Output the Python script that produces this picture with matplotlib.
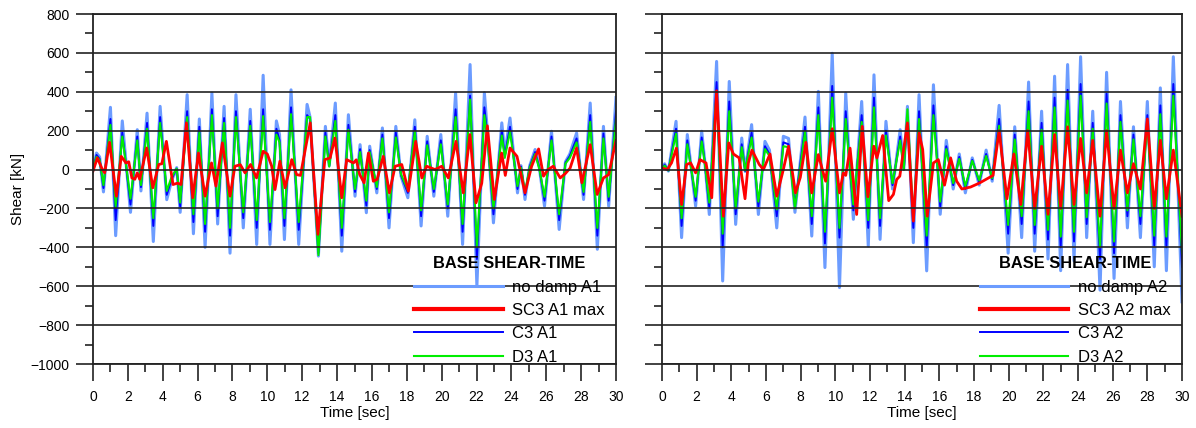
import matplotlib
matplotlib.use("Agg")
import matplotlib.pyplot as plt
import numpy as np
from matplotlib.ticker import MultipleLocator

plt.rcParams['font.family'] = ['Liberation Sans', 'DejaVu Sans']

# ---------- A1 (left panel) ----------
a1_t = [0.00, 0.20, 0.38, 0.60, 1.00, 1.30, 1.68, 2.15, 2.54, 2.75,
        3.10, 3.46, 3.85, 4.23, 4.50, 4.80, 5.00, 5.40, 5.76, 6.10,
        6.43, 6.82, 7.15, 7.52, 7.86, 8.20, 8.62, 9.02, 9.39, 9.76,
        10.15, 10.52, 10.70, 10.98, 11.36, 11.80, 12.28, 12.45, 12.93, 13.33,
        13.55, 13.90, 14.27, 14.65, 15.03, 15.32, 15.68, 15.87, 16.28, 16.60,
        16.98, 17.37, 17.67, 18.06, 18.46, 18.82, 19.17, 19.55, 19.95, 20.35,
        20.80, 21.20, 21.63, 22.02, 22.45, 22.62, 22.97, 23.45, 23.62, 23.92,
        24.35, 24.55, 24.78, 25.05, 25.36, 25.60, 25.90, 26.30, 26.74, 27.10,
        27.35, 27.74, 28.14, 28.52, 28.93, 29.28, 29.58, 30.00]
a1_nodamp = [0, 85, 65, -115, 320, -340, 250, -220, 205, -110,
             290, -370, 325, -155, -60, 10, -220, 385, -330, 260,
             -400, 393, -280, 325, -430, 385, -300, 310, -385, 485,
             -385, 250, 180, -360, 410, -385, 335, 270, -445, 222,
             20, 342, -420, 282, -137, 128, -222, 120, -120, 214,
             -300, 222, -34, -145, 256, -290, 171, -137, 180, -240,
             393, -385, 540, -600, 395, 200, -274, 240, 80, 265,
             -120, 20, -154, 20, 103, 10, -188, 197, -308, 40,
             80, 188, -154, 342, -410, 222, -188, 370]
a1_c3 = [0, 75, 55, -95, 260, -260, 190, -180, 170, -90,
         240, -290, 270, -130, -50, 5, -190, 300, -270, 220,
         -320, 310, -240, 265, -340, 300, -250, 250, -300, 310,
         -310, 210, 150, -290, 320, -310, 280, 260, -430, 190,
         20, 280, -340, 230, -115, 105, -185, 100, -100, 180,
         -250, 190, -30, -120, 220, -240, 145, -115, 150, -200,
         310, -320, 380, -460, 320, 180, -230, 200, 70, 220,
         -100, 15, -130, 15, 90, 10, -160, 170, -260, 35,
         70, 160, -130, 280, -340, 185, -160, 300]
a1_d3 = [0, 65, 50, -80, 230, -190, 170, -150, 150, -80,
         210, -250, 240, -110, -40, 5, -170, 270, -230, 190,
         -280, 280, -200, 240, -300, 270, -220, 225, -260, 275,
         -270, 180, 140, -250, 285, -270, 270, 270, -440, 170,
         15, 250, -300, 205, -100, 90, -160, 90, -90, 160,
         -220, 165, -25, -105, 195, -210, 125, -100, 130, -180,
         270, -280, 360, -400, 280, 160, -200, 175, 60, 195,
         -85, 10, -115, 10, 80, 5, -140, 150, -230, 30,
         60, 140, -115, 245, -300, 160, -140, 260]
a1_sc3_t = [0.00, 0.25, 0.50, 0.67, 0.95, 1.34, 1.62, 1.89, 2.05, 2.23,
            2.40, 2.54, 2.68, 3.08, 3.43, 3.77, 3.95, 4.21, 4.59, 4.85,
            5.05, 5.36, 5.72, 6.05, 6.43, 6.80, 7.05, 7.42, 7.86, 8.14,
            8.45, 8.72, 9.04, 9.38, 9.76, 10.00, 10.25, 10.44, 10.72, 11.02,
            11.40, 11.68, 11.90, 12.46, 12.90, 13.30, 13.60, 13.88, 14.27, 14.55,
            14.94, 15.10, 15.30, 15.55, 15.80, 16.08, 16.30, 16.65, 17.00, 17.33,
            17.71, 18.09, 18.51, 18.86, 19.14, 19.62, 20.00, 20.38, 20.82, 21.24,
            21.62, 21.97, 22.30, 22.62, 23.02, 23.44, 23.65, 23.92, 24.32, 24.78,
            25.16, 25.56, 25.84, 26.10, 26.40, 26.80, 27.10, 27.37, 27.74, 28.04,
            28.52, 28.92, 29.28, 29.58, 30.00]
a1_sc3 = [-8, 60, 8, -17, 140, -137, 68, 34, 40, -43,
          -50, -17, -50, 111, -94, 26, 30, 145, -77, -70,
          -77, 240, -145, 85, -137, 34, -85, 137, -137, 17,
          25, -17, 26, -43, 94, 80, 17, -103, 43, -94,
          51, -26, -30, 240, -333, 51, 60, 162, -145, 51,
          34, 50, -26, -68, 85, -60, -50, 68, -120, 17,
          26, -111, 145, -43, 17, 0, 17, -43, 145, -120,
          180, -171, -70, 225, -154, 85, -30, 111, 68, -120,
          17, 106, -34, 0, 17, -43, -20, 8, 111, -68,
          128, -128, -43, -26, 150]

# ---------- A2 (right panel) ----------
a2_t = [0.00, 0.15, 0.37, 0.81, 1.13, 1.46, 1.94, 2.29, 2.45, 2.73,
        3.15, 3.50, 3.88, 4.25, 4.60, 4.80, 5.17, 5.56, 5.94, 6.20,
        6.62, 7.00, 7.30, 7.67, 8.25, 8.64, 9.02, 9.40, 9.82, 10.24,
        10.60, 10.75, 11.04, 11.52, 11.90, 12.23, 12.58, 12.92, 13.30, 13.74,
        13.95, 14.16, 14.50, 14.83, 15.27, 15.66, 16.05, 16.40, 16.80, 17.15,
        17.50, 17.90, 18.30, 18.70, 19.05, 19.45, 19.97, 20.35, 20.75, 21.15,
        21.50, 21.90, 22.27, 22.65, 23.00, 23.40, 23.77, 24.15, 24.50, 24.85,
        25.27, 25.65, 26.08, 26.45, 26.85, 27.20, 27.60, 28.00, 28.40, 28.75,
        29.10, 29.50, 30.00]
a2_nodamp = [0, 30, -8, 248, -350, 180, -188, 197, 60, -231,
             556, -573, 453, -282, 162, -10, 231, -231, 145, 100,
             -300, 171, 160, -220, 270, -342, 402, -504, 598, -607,
             393, 140, -256, 350, -393, 487, -359, 248, -100, 205,
             0, 325, -376, 385, -521, 436, -230, 150, -100, 80,
             -120, 60, -80, 100, -60, 330, -430, 220, -350, 450,
             -420, 300, -460, 480, -520, 540, -470, 580, -350, 300,
             -620, 500, -560, 350, -300, 220, -350, 350, -500, 420,
             -520, 580, -680]
a2_c3 = [0, 25, -5, 210, -290, 150, -160, 165, 50, -195,
         450, -400, 350, -230, 130, -8, 190, -190, 120, 80,
         -240, 140, 130, -190, 220, -280, 320, -380, 430, -350,
         300, 110, -210, 280, -300, 370, -290, 200, -80, 170,
         0, 270, -300, 300, -400, 330, -190, 120, -80, 65,
         -100, 50, -65, 80, -50, 260, -330, 180, -280, 350,
         -330, 240, -360, 370, -400, 410, -370, 440, -280, 240,
         -460, 390, -430, 280, -240, 180, -280, 280, -390, 330,
         -400, 440, -500]
a2_d3 = [0, 20, -5, 185, -250, 130, -140, 145, 45, -170,
         400, -330, 300, -200, 115, -5, 165, -165, 105, 70,
         -205, 120, 115, -200, 195, -240, 280, -320, 370, -300,
         260, 95, -180, 245, -260, 320, -250, 175, -70, 150,
         0, 310, -260, 260, -340, 280, -165, 105, -70, 55,
         -85, 45, -55, 70, -45, 225, -285, 155, -240, 300,
         -285, 205, -310, 320, -345, 355, -320, 380, -245, 210,
         -400, 340, -370, 245, -210, 155, -240, 245, -340, 285,
         -345, 380, -430]
a2_sc3_t = [0.00, 0.30, 0.55, 0.83, 1.13, 1.42, 1.65, 1.94, 2.19, 2.54,
            2.87, 3.15, 3.54, 3.85, 4.12, 4.45, 4.79, 4.98, 5.19, 5.61,
            5.85, 6.23, 6.62, 7.00, 7.30, 7.70, 7.98, 8.30, 8.64, 9.02,
            9.25, 9.44, 9.82, 10.24, 10.46, 10.60, 10.85, 11.23, 11.55, 11.88,
            12.22, 12.40, 12.73, 13.08, 13.35, 13.54, 13.72, 14.16, 14.50, 14.83,
            15.04, 15.30, 15.66, 15.94, 16.30, 16.65, 17.00, 17.30, 17.80, 18.30,
            18.80, 19.10, 19.45, 19.90, 20.30, 20.70, 21.10, 21.50, 21.90, 22.27,
            22.65, 23.00, 23.40, 23.77, 24.15, 24.50, 24.85, 25.27, 25.65, 26.08,
            26.45, 26.85, 27.20, 27.60, 28.00, 28.40, 28.75, 29.10, 29.50, 30.00]
a2_sc3 = [8, 0, 34, 110, -180, 26, 34, -17, 51, 34,
          -145, 405, -240, 137, 80, 60, -150, 34, 100, 26,
          0, 80, -137, 0, 120, -120, -40, 140, -120, 77,
          0, -60, 210, -120, -17, -30, 110, -231, 222, -140,
          120, 60, 175, -160, -128, -51, -34, 240, -265, 188,
          103, -240, 34, 51, -80, 60, -60, -100, -90, -70,
          -45, -30, 200, -150, 80, -180, 200, -200, 120, -230,
          180, -200, 220, -180, 160, -120, 150, -240, 200, -200,
          100, -120, 30, -100, 260, -200, 150, -150, 100, -240]

yticks = np.arange(-1000, 801, 200)
xticks = np.arange(0, 31, 2)

fig = plt.figure(figsize=(11.96, 4.28), dpi=100)
ax1 = fig.add_axes([93 / 1196, 1 - 364 / 428, 523 / 1196, 350 / 428])
ax2 = fig.add_axes([662 / 1196, 1 - 364 / 428, 520 / 1196, 350 / 428])

panels = [
    (ax1, a1_t, a1_nodamp, a1_c3, a1_d3, a1_sc3_t, a1_sc3, 'A1'),
    (ax2, a2_t, a2_nodamp, a2_c3, a2_d3, a2_sc3_t, a2_sc3, 'A2'),
]

for ax, t, nd, c3, d3, st, sc3, name in panels:
    l_nd, = ax.plot(t, nd, color='#6c9cff', lw=2.2, solid_joinstyle='round',
                    label='no damp ' + name)
    l_c3, = ax.plot(t, c3, color='#0000ff', lw=1.4, solid_joinstyle='round',
                    label='C3 ' + name)
    l_d3, = ax.plot(t, d3, color='#00ee00', lw=1.5, solid_joinstyle='round',
                    label='D3 ' + name)
    l_sc, = ax.plot(st, sc3, color='#ff0000', lw=2.0, solid_joinstyle='round',
                    label='SC3 ' + name + ' max')

    ax.set_xlim(0, 30)
    ax.set_ylim(-1000, 800)
    ax.set_xticks(xticks)
    ax.set_yticks(yticks)
    ax.xaxis.set_minor_locator(MultipleLocator(1))
    ax.yaxis.set_minor_locator(MultipleLocator(100))
    ax.tick_params(axis='both', which='major', direction='out', length=12,
                   width=1.2, labelsize=10, color='#222222')
    ax.tick_params(axis='both', which='minor', direction='out', length=6,
                   width=1.2, color='#222222')
    ax.tick_params(axis='y', which='major', pad=5)
    ax.tick_params(axis='x', which='major', pad=7)
    ax.set_axisbelow(False)
    ax.yaxis.grid(True, color='#222222', lw=1.2)
    for s in ax.spines.values():
        s.set_color('#222222')
        s.set_linewidth(1.3)
    ax.set_xlabel('Time [sec]', fontsize=11, labelpad=1)

    leg = ax.legend(handles=[l_nd, l_sc, l_c3, l_d3], loc='lower right',
                    bbox_to_anchor=(1.0, -0.035),
                    frameon=False, fontsize=12, handlelength=5.3,
                    handletextpad=0.55, labelspacing=0.5, borderaxespad=0.3,
                    title='BASE SHEAR-TIME',
                    title_fontproperties={'weight': 'bold', 'size': 11.8})
    leg.get_lines()[1].set_linewidth(3)

ax1.set_ylabel('Shear [kN]', fontsize=11, labelpad=4)
ax2.tick_params(axis='y', labelleft=False)

fig.savefig('out.png', dpi=100)
